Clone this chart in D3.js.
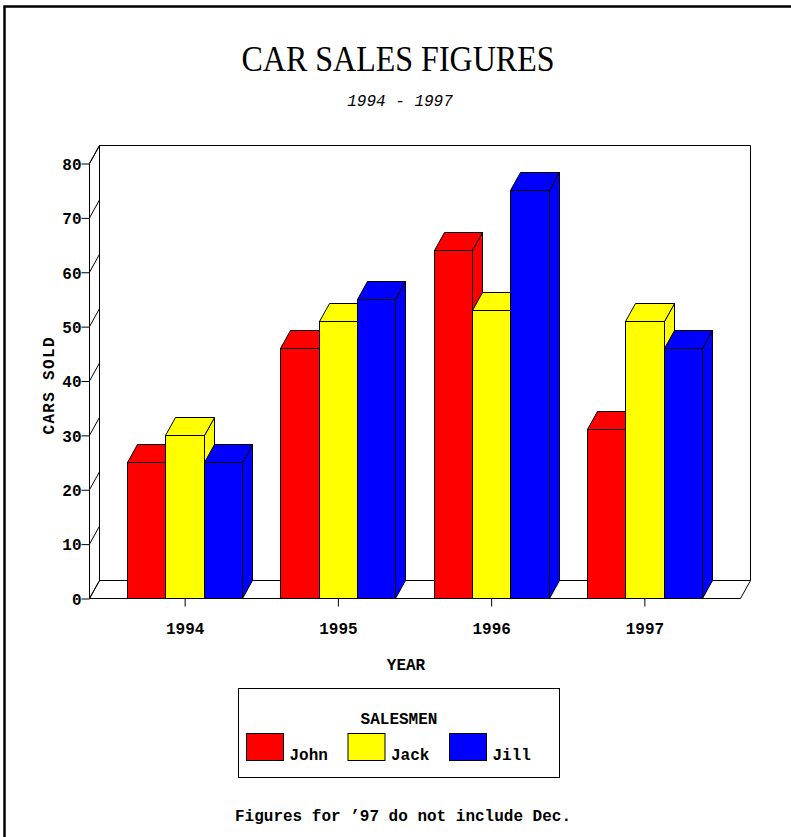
<!DOCTYPE html>
<html><head><meta charset="utf-8">
<style>html,body{margin:0;padding:0;background:#fff}svg{display:block}
text{font-family:"Liberation Mono",monospace;font-weight:bold;fill:#000;font-size:16px}
</style>
<script src="https://cdnjs.cloudflare.com/ajax/libs/d3/7.8.5/d3.min.js"></script></head><body>
<script>
const years = ["1994","1995","1996","1997"];
const salesmen = ["John","Jack","Jill"];
const colors = ["#ff0000","#ffff00","#0000ff"];
const john = [25,46,64,31];
const jack = [30,51,53,51];
const jill = [25,55,75,46];
const yTicks = [0,10,20,30,40,50,60,70,80];

const W=791,H=837;
const svg=d3.select("body").append("svg").attr("width",W).attr("height",H);
const x0=d3.scaleBand().domain(years).range([108.5,721.5]).paddingInner(0).paddingOuter(0);
const x1=d3.scaleBand().domain(salesmen).range([0,x0.bandwidth()]).paddingInner(0).paddingOuter(0.5);
const y=d3.scaleLinear().domain([0,80]).range([598.5,163.5]);
const dx=10, dy=-18;
const plotL=89.5,plotR=740.5;
const line=(pts,fill)=>svg.append("path").attr("d",d3.line()(pts)+(fill?"Z":"")).attr("fill",fill||"none").attr("stroke","#000").attr("stroke-width",1);

// frame
svg.append("path").attr("d",`M4.5 ${H}V6.5H${W}`).attr("fill","none").attr("stroke","#000").attr("stroke-width",2.5);

// box: walls and floor
const backTop=y(80)+dy, base=y(0), bk=base+dy;
line([[plotL+dx,bk],[plotL+dx,backTop],[plotR+dx,backTop],[plotR+dx,bk],[plotL+dx,bk]]);
line([[plotL,y(80)],[plotL,base],[plotR,base],[plotR+dx,bk]]);
line([[plotL,base],[plotL+dx,bk]]);
line([[plotL,y(80)],[plotL+dx,backTop]]);

// y axis and wall ticks
const gy=svg.append("g").attr("transform",`translate(${plotL},0)`).call(d3.axisLeft(y).tickValues(yTicks).tickSize(8).tickSizeOuter(0).tickPadding(0));
gy.select(".domain").remove();
gy.selectAll("line").attr("stroke","#000");
gy.attr("font-family",null).attr("font-size",null);
gy.selectAll("text").attr("dy","0.36em");
yTicks.forEach(t=>line([[plotL,y(t)],[plotL+dx,y(t)+dy]]));

// x axis
const gx=svg.append("g").attr("transform",`translate(0,${base})`).call(d3.axisBottom(x0).tickSize(8).tickSizeOuter(0).tickPadding(16));
gx.select(".domain").remove();
gx.selectAll("line").attr("stroke","#000");
gx.attr("font-family",null).attr("font-size",null);

// bars
const series=[john,jack,jill];
years.forEach((yr,i)=>{
  salesmen.forEach((s,j)=>{
    const v=series[j][i], xa=Math.floor(x0(yr)+x1(s))+0.5, xb=Math.floor(x0(yr)+x1(s)+x1.bandwidth())+0.5, yt=Math.floor(y(v))+0.5;
    line([[xb,base],[xb+dx,base+dy],[xb+dx,yt+dy],[xb,yt]],colors[j]);
    line([[xa,yt],[xa+dx,yt+dy],[xb+dx,yt+dy],[xb,yt]],colors[j]);
    svg.append("rect").attr("x",xa).attr("y",yt).attr("width",xb-xa).attr("height",base-yt).attr("fill",colors[j]).attr("stroke","#000");
  });
});

const label=(t,xx,yy,o={})=>{const e=svg.append("text").attr("x",xx).attr("y",yy).attr("text-anchor",o.a||"middle").text(t);
  if(o.style)for(const k in o.style)e.style(k,o.style[k]); if(o.rot)e.attr("transform",`rotate(-90 ${xx} ${yy})`);
  if(o.len)e.attr("textLength",o.len).attr("lengthAdjust",o.adj||"spacing");return e;};
label("CAR SALES FIGURES",398,70.5,{len:313,adj:"spacingAndGlyphs",style:{"font-family":'"Liberation Serif",serif',"font-weight":"normal","font-size":"36px"}});
label("1994 - 1997",400,106,{style:{"font-weight":"normal","font-style":"italic"}});
label("CARS SOLD",54,386,{rot:true,len:97});
label("YEAR",406,670);

// legend
svg.append("rect").attr("x",238.5).attr("y",688.5).attr("width",321).attr("height",89).attr("fill","#fff").attr("stroke","#000");
label("SALESMEN",399,724);
const legX=d3.scalePoint().domain(salesmen).range([246.5,449.5]);
salesmen.forEach((s,j)=>{
  svg.append("rect").attr("x",legX(s)).attr("y",733.5).attr("width",37).attr("height",27).attr("fill",colors[j]).attr("stroke","#000");
  label(s,legX(s)+43,760,{a:"start"});
});
label("Figures for \u201997 do not include Dec.",403,821);
</script></body></html>
